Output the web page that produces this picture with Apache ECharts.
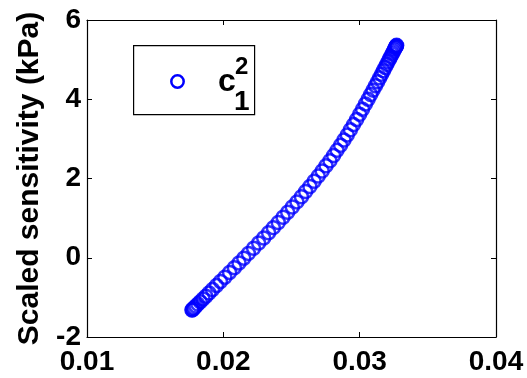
<!DOCTYPE html>
<html>
<head>
<meta charset="utf-8">
<script src="https://cdn.jsdelivr.net/npm/echarts@6/dist/echarts.min.js"></script>
<style>
  html, body { margin: 0; padding: 0; background: #fff; }
  #chart { width: 527px; height: 378px; }
</style>
</head>
<body>
<div id="chart"></div>
<script>
// Strain (x) and scaled sensitivity in kPa (y) for parameter c1^2
const strain = [
  0.01770, 0.01773, 0.01779, 0.01787, 0.01799, 0.01813, 0.01831, 0.01851,
  0.01872, 0.01895, 0.01921, 0.01950, 0.01979, 0.02011, 0.02046, 0.02081,
  0.02115, 0.02150, 0.02184, 0.02222, 0.02259, 0.02296, 0.02332, 0.02367,
  0.02403, 0.02438, 0.02472, 0.02506, 0.02540, 0.02573, 0.02604, 0.02635,
  0.02666, 0.02696, 0.02725, 0.02753, 0.02782, 0.02809, 0.02834, 0.02860,
  0.02885, 0.02909, 0.02932, 0.02955, 0.02978, 0.03000, 0.03021, 0.03042,
  0.03062, 0.03081, 0.03098, 0.03116, 0.03132, 0.03147, 0.03161, 0.03174,
  0.03187, 0.03199, 0.03209, 0.03220, 0.03229, 0.03238, 0.03246, 0.03253,
  0.03259, 0.03264, 0.03267, 0.03270, 0.03271
];
const sensitivity = [
  -1.32, -1.31, -1.29, -1.26, -1.22, -1.17, -1.11, -1.04,
  -0.97, -0.89, -0.80, -0.70, -0.60, -0.49, -0.37, -0.25,
  -0.13, -0.01, 0.11, 0.24, 0.37, 0.50, 0.63, 0.76,
  0.89, 1.02, 1.15, 1.28, 1.41, 1.54, 1.67, 1.80,
  1.93, 2.06, 2.19, 2.32, 2.45, 2.58, 2.71, 2.84,
  2.97, 3.10, 3.23, 3.36, 3.49, 3.62, 3.75, 3.88,
  4.00, 4.12, 4.23, 4.34, 4.44, 4.54, 4.63, 4.72,
  4.80, 4.88, 4.95, 5.02, 5.08, 5.14, 5.19, 5.24,
  5.28, 5.31, 5.33, 5.35, 5.36
];
const xTicks = [0.01, 0.02, 0.03, 0.04];
const yTicks = [-2, 0, 2, 4, 6];
const yTitle = 'Scaled sensitivity (kPa)';

const FONT = '"Liberation Sans", Arial, Helvetica, sans-serif';
const BLUE = '#0000ff';

const points = strain.map((x, i) => [x, sensitivity[i]]);

const chart = echarts.init(document.getElementById('chart'), null, { renderer: 'canvas' });

const tickStyle = { show: true, inside: true, length: 5, lineStyle: { color: '#000', width: 1 } };
const lineStyle = { show: true, onZero: false, lineStyle: { color: '#000', width: 1.2 } };
const labelStyle = { color: '#000', fontFamily: FONT, fontWeight: 'bold', fontSize: 28 };

chart.setOption({
  backgroundColor: '#fff',
  animation: false,
  grid: { left: 87, right: 31, top: 20, bottom: 41, containLabel: false },
  xAxis: [
    {
      type: 'value', min: xTicks[0], max: xTicks[xTicks.length - 1], interval: 0.01,
      position: 'bottom',
      axisLine: lineStyle, axisTick: tickStyle, splitLine: { show: false },
      axisLabel: Object.assign({ margin: 11, formatter: v => v.toFixed(2) }, labelStyle)
    },
    {
      type: 'value', min: xTicks[0], max: xTicks[xTicks.length - 1], interval: 0.01,
      position: 'top',
      axisLine: lineStyle, axisTick: tickStyle, splitLine: { show: false },
      axisLabel: { show: false }
    }
  ],
  yAxis: [
    {
      type: 'value', min: yTicks[0], max: yTicks[yTicks.length - 1], interval: 2,
      position: 'left',
      name: yTitle, nameLocation: 'middle', nameGap: 41, nameRotate: 90,
      nameTextStyle: { color: '#000', fontFamily: FONT, fontWeight: 'bold', fontSize: 30 },
      axisLine: lineStyle, axisTick: tickStyle, splitLine: { show: false },
      axisLabel: Object.assign({ margin: 6 }, labelStyle)
    },
    {
      type: 'value', min: yTicks[0], max: yTicks[yTicks.length - 1], interval: 2,
      position: 'right',
      axisLine: lineStyle, axisTick: tickStyle, splitLine: { show: false },
      axisLabel: { show: false }
    }
  ],
  series: [
    {
      name: 'c1^2',
      type: 'scatter',
      xAxisIndex: 0, yAxisIndex: 0,
      data: points,
      symbol: 'circle',
      symbolSize: 13,
      itemStyle: { color: 'rgba(0,0,0,0)', borderColor: BLUE, borderWidth: 2.5 },
      emphasis: { disabled: true }
    }
  ],
  graphic: [
    {
      type: 'rect', left: 133, top: 45, z: 10,
      shape: { width: 121, height: 69 },
      style: { fill: '#fff', stroke: '#000', lineWidth: 1.2 }
    },
    {
      type: 'circle', z: 11, x: 177.5, y: 81.5,
      shape: { cx: 0, cy: 0, r: 6.2 },
      style: { fill: 'none', stroke: BLUE, lineWidth: 2.5 }
    },
    {
      type: 'text', z: 11, x: 218, y: 66,
      style: { text: 'c', fill: '#000', font: 'bold 32px ' + FONT, verticalAlign: 'top' }
    },
    {
      type: 'text', z: 11, x: 235, y: 55,
      style: { text: '2', fill: '#000', font: 'bold 24px ' + FONT, verticalAlign: 'top' }
    },
    {
      type: 'text', z: 11, x: 234, y: 88,
      style: { text: '1', fill: '#000', font: 'bold 28px ' + FONT, verticalAlign: 'top' }
    }
  ]
});
</script>
</body>
</html>
